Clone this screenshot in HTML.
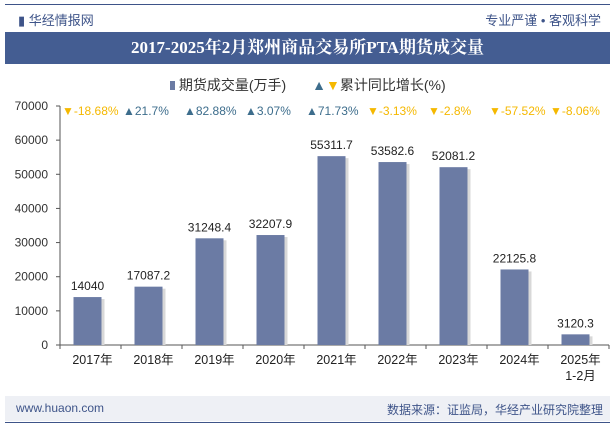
<!DOCTYPE html>
<html><head><meta charset="utf-8"><style>
body{margin:0;width:615px;height:427px;background:#fff;font-family:"Liberation Sans","Noto Sans CJK SC",sans-serif;overflow:hidden;position:relative}
.abs{position:absolute}
</style></head><body>
<div class="abs" style="left:5px;top:4px;width:605px;height:1px;background:#3e5489"></div>
<div class="abs" style="left:18px;top:10px;font-size:13px;color:#3e5489">▮ 华经情报网</div>
<div class="abs" style="right:14px;top:10px;font-size:13px;color:#3e5489">专业严谨 • 客观科学</div>
<div class="abs" style="left:5px;top:32px;width:605px;height:32px;background:#445d92;color:#fff;font:bold 17px 'Liberation Serif','Noto Serif CJK SC',serif;text-align:center;line-height:32px">2017-2025年2月郑州商品交易所PTA期货成交量</div>
<div class="abs" style="left:170px;top:75px;font-size:14px;color:#333">
<span><span style="display:inline-block;width:5px;height:9px;background:#6b7ba4"></span> 期货成交量(万手)</span>
<span style="margin-left:22px"><span style="color:#3d6d8c">▲</span><span style="color:#f5b800">▼</span>累计同比增长(%)</span>
</div>
<svg id="chart" class="abs" style="left:0;top:0" width="615" height="427"></svg>
<div class="abs" style="left:5px;top:396px;width:605px;height:25px;background:#eef0f5"></div>
<div class="abs" style="left:16px;top:401px;font-size:12px;color:#3e5489">www.huaon.com</div>
<div class="abs" style="right:12px;top:401px;font-size:12px;color:#3e5489">数据来源：证监局，华经产业研究院整理</div>
<div class="abs" style="left:5px;top:422px;width:605px;height:1px;background:#3e5489"></div>
<script>
const categories=["2017年","2018年","2019年","2020年","2021年","2022年","2023年","2024年","2025年\n1-2月"];
const volumes=[14040,17087.2,31248.4,32207.9,55311.7,53582.6,52081.2,22125.8,3120.3];
const growth=[-18.68,21.7,82.88,3.07,71.73,-3.13,-2.8,-57.52,-8.06];
const yTicks=[0,10000,20000,30000,40000,50000,60000,70000];
const svg=document.getElementById('chart');const NS='http://www.w3.org/2000/svg';
const X0=60,X1=609,Y0=345,Y1=106,YMAX=70000;
const bw=(X1-X0)/categories.length;
const y=v=>Y0-(v/YMAX)*(Y0-Y1);
const x=i=>X0+bw*i+bw/2;
function mk(t,a,txt){const e=document.createElementNS(NS,t);for(const k in a)e.setAttribute(k,a[k]);if(txt!==undefined)e.textContent=txt;svg.appendChild(e);return e;}
let e=mk('line',{x1:X0,x2:X0,y1:Y1,y2:Y0,stroke:'#555'});


e=mk('line',{x1:X0,x2:X1,y1:Y0,y2:Y0,stroke:'#555'});


yTicks.forEach(t=>{
 const l=mk('line',{x1:X0-4,x2:X0,y1:y(t),y2:y(t),stroke:'#555'});
 
 
 const tx=mk('text',{x:X0-12,y:y(t)+4,'text-anchor':'end','font-size':12,fill:'#333'},t);
 
 
});
for(let i=0;i<=categories.length;i++){
 const l=mk('line',{x1:X0+bw*i,x2:X0+bw*i,y1:Y0,y2:Y0+4,stroke:'#555'});
 
 
}
categories.forEach((c,i)=>{
 const cx=x(i)-3;
 const sh=mk('rect',{x:cx-14+3,y:y(volumes[i])+2,width:28,height:Y0-y(volumes[i])-2,fill:'#d8d8d8'});
 
 
 const r=mk('rect',{x:cx-14,y:y(volumes[i]),width:28,height:Y0-y(volumes[i]),fill:'#6b7ba4'});
 
 
 const v=mk('text',{x:cx,y:y(volumes[i])-7,'text-anchor':'middle','font-size':12,fill:'#222'},volumes[i]);
 
 
 c.split('\n').forEach((ln,k)=>{
  const t=mk('text',{x:x(i)+2,y:Y0+19+k*16,'text-anchor':'middle','font-size':12.5,fill:'#222'},ln);
  
  
 });
 const up=growth[i]>=0;
 const g=mk('text',{x:X0+bw*i+2,y:115,'font-size':12,fill:up?'#3d6d8c':'#f5b800'},(up?'▲':'▼')+growth[i]+'%');
 
 
});
</script>
</body></html>
